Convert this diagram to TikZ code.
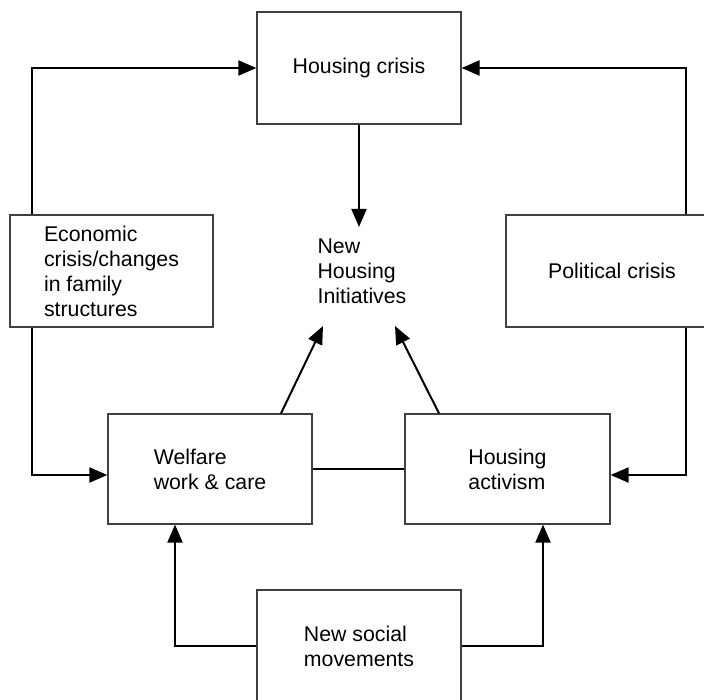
\documentclass[tikz,border=0pt]{standalone}
\usepackage{fontspec}
\setmainfont{Liberation Sans}
\usetikzlibrary{arrows.meta}
\tikzset{
  box/.style={draw=black!75, line width=1.2pt, fill=white, rectangle, inner sep=0pt,
    align=left, font=\fontsize{21.3}{25}\selectfont},
  plain/.style={inner sep=0pt, align=left, font=\fontsize{21.3}{25}\selectfont},
  conn/.style={line width=2pt, black},
  arr/.style={conn, -{Triangle[length=18pt,width=15pt]}}
}
\begin{document}
\begin{tikzpicture}[x=1pt,y=-1pt]
\useasboundingbox (0,0) rectangle (704,700);
% nodes
\node[box, minimum width=204pt, minimum height=112pt] (hc) at (359,68) {Housing crisis};
\node[box, minimum width=203pt, minimum height=112pt] (econ) at (111.5,271) {Economic\\crisis/changes\\in family\\structures};
\node[box, minimum width=212pt, minimum height=112pt] (pol) at (612,271) {Political crisis};
\node[box, minimum width=204pt, minimum height=110pt] (welf) at (210,469) {Welfare\\work \& care};
\node[box, minimum width=205pt, minimum height=110pt] (act) at (507.5,469) {Housing\\activism};
\node[box, minimum width=204pt, minimum height=112pt] (nsm) at (359,646) {New social\\movements};
\node[plain] (nhi) at (362,271) {New\\Housing\\Initiatives};
% arrow tip coordinates near the central text
\coordinate (nhiTop) at (359,227);
\coordinate (nhiL) at (323,326);
\coordinate (nhiR) at (395,326);
\coordinate (L) at (32,0);
\coordinate (R) at (686,0);
% connectors
\draw[arr] (L |- econ.north) |- (hc.west);
\draw[arr] (L |- econ.south) |- ([yshift=-6pt]welf.west);
\draw[arr] (R |- pol.north) |- (hc.east);
\draw[arr] (R |- pol.south) |- ([yshift=-6pt]act.east);
\draw[arr] (hc.south) -- (nhiTop);
\draw[arr] ([xshift=71pt]welf.north) -- (nhiL);
\draw[arr] ([xshift=-68.5pt]act.north) -- (nhiR);
\draw[conn] (welf.east) -- (act.west);
\draw[arr] (nsm.west) -| ([xshift=-35pt]welf.south);
\draw[arr] (nsm.east) -| ([xshift=35.5pt]act.south);
\end{tikzpicture}
\end{document}
